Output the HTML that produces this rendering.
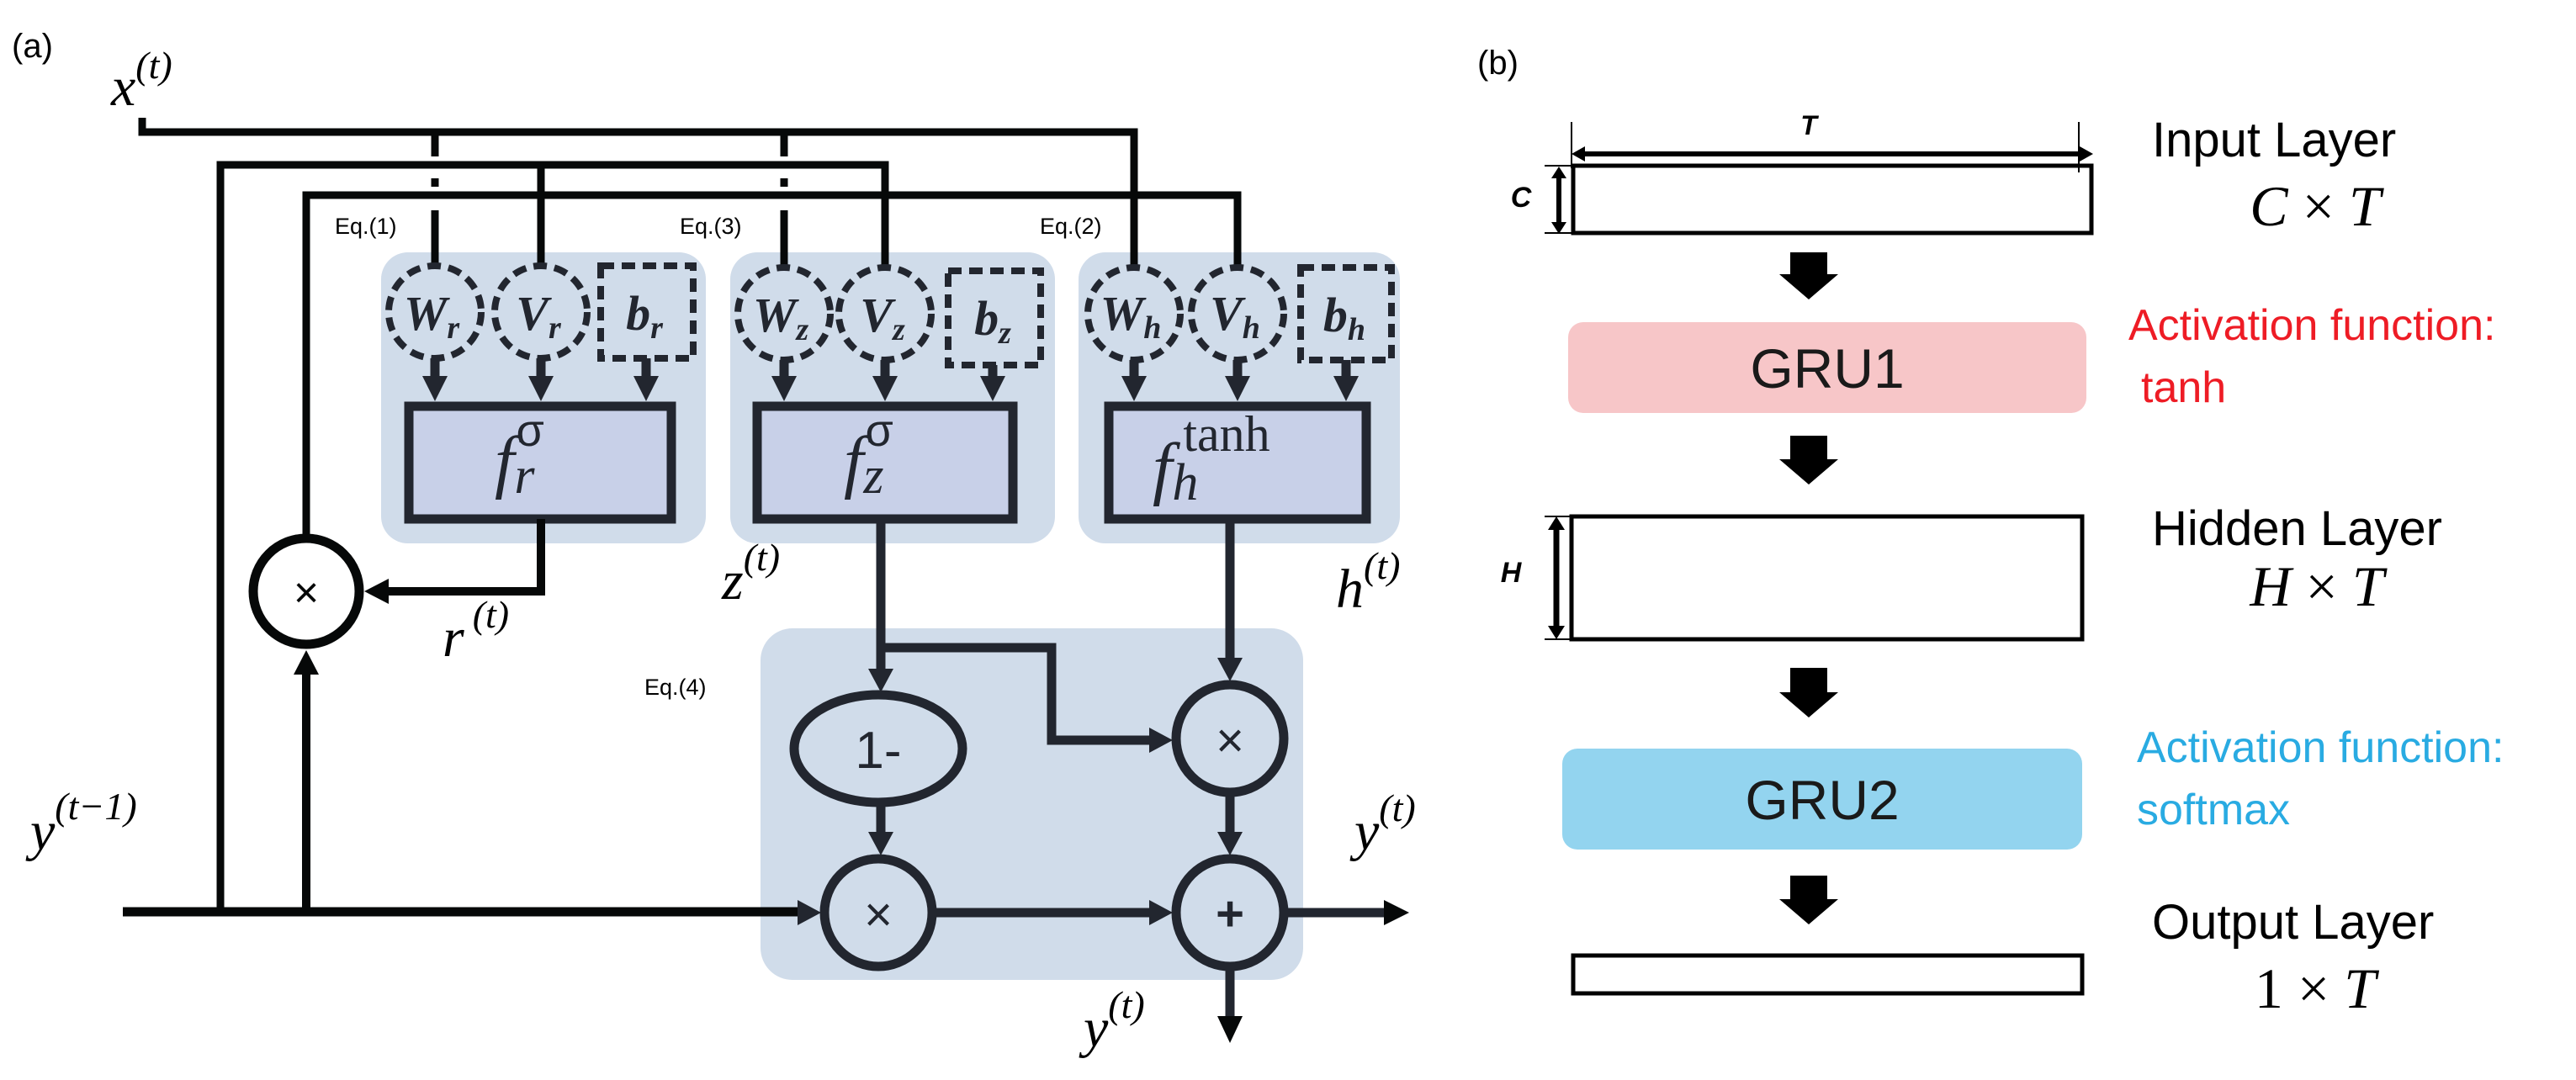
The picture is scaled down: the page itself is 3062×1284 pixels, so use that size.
<!DOCTYPE html>
<html><head><meta charset="utf-8"><style>
html,body{margin:0;padding:0;background:#fff;}
svg{display:block;}
.m{font-family:"Liberation Serif",serif;font-style:italic;}
.s{font-family:"Liberation Sans",sans-serif;}
</style></head><body>
<svg width="3062" height="1284" viewBox="0 0 3062 1284" xmlns="http://www.w3.org/2000/svg">
<rect x="453" y="300" width="386" height="346" rx="32" fill="#d0dcea"/>
<rect x="868" y="300" width="386" height="346" rx="32" fill="#d0dcea"/>
<rect x="1282" y="300" width="382" height="346" rx="32" fill="#d0dcea"/>
<rect x="904" y="747" width="645" height="418" rx="38" fill="#d0dcea"/>

<text x="14" y="68" class="s" font-size="40">(a)</text>
<text x="132" y="125" class="m" font-size="66">x<tspan dy="-32" font-size="46">(t)</tspan></text>

<g stroke="#060808" stroke-width="9" fill="none">
<path d="M169,140 V157 H1348 V318"/>
<path d="M262,1084 V196 H1052 V318"/>
<path d="M643,196 V318"/>
<path d="M364,635 V232 H1471 V318"/>
<path d="M517,157 V186 M517,212 V222 M517,250 V318"/>
<path d="M932,157 V186 M932,212 V222 M932,250 V318"/>
</g>

<text x="398" y="278" class="s" font-size="27">Eq.(1)</text>
<text x="808" y="278" class="s" font-size="27">Eq.(3)</text>
<text x="1236" y="278" class="s" font-size="27">Eq.(2)</text>
<text x="766" y="826" class="s" font-size="27">Eq.(4)</text>

<g stroke="#22262f" stroke-width="8" fill="none" stroke-dasharray="16 9">
<circle cx="517" cy="371" r="55"/><circle cx="643" cy="371" r="55"/>
<rect x="714" y="316" width="110" height="110"/>
<circle cx="932" cy="373" r="55"/><circle cx="1052" cy="373" r="55"/>
<rect x="1127" y="322" width="110" height="112"/>
<circle cx="1348" cy="373" r="55"/><circle cx="1471" cy="373" r="55"/>
<rect x="1546" y="318" width="108" height="110"/>
</g>
<g class="m" font-size="58" font-weight="bold" fill="#22262f" text-anchor="middle">
<text x="513" y="392">W<tspan font-size="38" dy="10">r</tspan></text>
<text x="640" y="392">V<tspan font-size="38" dy="10">r</tspan></text>
<text x="766" y="392">b<tspan font-size="38" dy="10">r</tspan></text>
<text x="928" y="394">W<tspan font-size="38" dy="10">z</tspan></text>
<text x="1049" y="394">V<tspan font-size="38" dy="10">z</tspan></text>
<text x="1180" y="398">b<tspan font-size="38" dy="10">z</tspan></text>
<text x="1344" y="392">W<tspan font-size="38" dy="10">h</tspan></text>
<text x="1468" y="392">V<tspan font-size="38" dy="10">h</tspan></text>
<text x="1598" y="394">b<tspan font-size="38" dy="10">h</tspan></text>
</g>

<g stroke="#22262f" stroke-width="11">
<path d="M517,426 V450 M643,426 V450 M768,426 V450 M932,428 V450 M1052,428 V450 M1180,434 V450 M1348,428 V450 M1471,428 V450 M1600,428 V450"/>
</g>
<g fill="#22262f">
<polygon points="502,447 532,447 517,477"/><polygon points="628,447 658,447 643,477"/><polygon points="753,447 783,447 768,477"/>
<polygon points="917,447 947,447 932,477"/><polygon points="1037,447 1067,447 1052,477"/><polygon points="1165,447 1195,447 1180,477"/>
<polygon points="1333,447 1363,447 1348,477"/><polygon points="1456,447 1486,447 1471,477"/><polygon points="1585,447 1615,447 1600,477"/>
</g>

<g fill="#c8d0e8" stroke="#22262f" stroke-width="11">
<rect x="486" y="483" width="312" height="134"/>
<rect x="900" y="483" width="304" height="134"/>
<rect x="1318" y="483" width="306" height="134"/>
</g>
<g class="m" fill="#22262f">
<text x="588" y="576" font-size="84">f<tspan font-size="62" dy="10">r</tspan><tspan font-family="Liberation Sans" font-style="normal" font-size="54" dx="-22" dy="-56">σ</tspan></text>
<text x="1003" y="576" font-size="84">f<tspan font-size="62" dy="10">z</tspan><tspan font-family="Liberation Sans" font-style="normal" font-size="54" dx="-22" dy="-56">σ</tspan></text>
<text x="1370" y="584" font-size="84">f<tspan font-size="62" dy="10">h</tspan><tspan font-family="Liberation Serif" font-style="normal" font-size="60" dx="-18" dy="-58">tanh</tspan></text>
</g>

<g stroke="#060808" stroke-width="10" fill="none">
<path d="M643,617 V703 H455"/>
<path d="M364,1084 V800"/>
</g>
<polygon points="433,703 462,688 462,718" fill="#060808"/>
<polygon points="364,773 349,802 379,802" fill="#060808"/>
<circle cx="364" cy="703" r="63" fill="#fff" stroke="#060808" stroke-width="11"/>
<text x="364" y="722" text-anchor="middle" class="s" font-size="52" fill="#060808">×</text>
<text x="526" y="780" class="m" font-size="66">r<tspan dx="10" dy="-34" font-size="46">(t)</tspan></text>
<text x="36" y="1010" class="m" font-size="66">y<tspan dy="-36" font-size="46">(t−1)</tspan></text>
<text x="858" y="712" class="m" font-size="66">z<tspan dy="-34" font-size="46">(t)</tspan></text>
<text x="1588" y="722" class="m" font-size="66">h<tspan dy="-34" font-size="46">(t)</tspan></text>
<text x="1610" y="1010" class="m" font-size="66">y<tspan dy="-34" font-size="46">(t)</tspan></text>
<text x="1288" y="1244" class="m" font-size="66">y<tspan dy="-34" font-size="46">(t)</tspan></text>

<g stroke="#22262f" stroke-width="11" fill="none">
<path d="M1047,617 V800"/>
<path d="M1047,770 H1250 V880 H1370"/>
<path d="M1462,617 V790"/>
<path d="M1047,957 V995"/>
<path d="M1462,946 V995"/>
<path d="M1112,1085 H1370"/>
<path d="M1462,1153 V1215"/>
<path d="M1530,1085 H1650"/>
</g>
<path d="M146,1084 H955" stroke="#060808" stroke-width="11"/>
<g fill="#22262f">
<polygon points="1032,795 1062,795 1047,823"/>
<polygon points="1366,865 1366,895 1394,880"/>
<polygon points="1447,782 1477,782 1462,810"/>
<polygon points="1032,989 1062,989 1047,1017"/>
<polygon points="1447,989 1477,989 1462,1017"/>
<polygon points="948,1070 948,1100 976,1085"/>
<polygon points="1366,1070 1366,1100 1394,1085"/>
</g>
<polygon points="1645,1070 1645,1100 1675,1085" fill="#060808"/>
<polygon points="1447,1208 1477,1208 1462,1240" fill="#060808"/>
<g fill="none" stroke="#22262f" stroke-width="11">
<ellipse cx="1044" cy="890" rx="100" ry="64"/>
<ellipse cx="1462" cy="878" rx="64" ry="64"/>
<ellipse cx="1044" cy="1085" rx="64" ry="64"/>
<ellipse cx="1462" cy="1085" rx="64" ry="64"/>
</g>
<g class="s" fill="#22262f" text-anchor="middle">
<text x="1044" y="913" font-size="62">1-</text>
<text x="1462" y="900" font-size="58">×</text>
<text x="1044" y="1107" font-size="58">×</text>
<text x="1462" y="1106" font-size="58" font-weight="bold">+</text>
</g>

<text x="1756" y="88" class="s" font-size="40">(b)</text>
<g stroke="#000" fill="none">
<rect x="1870" y="197" width="616" height="80" stroke-width="5"/>
<path d="M1868,145 V200 M2471,145 V205" stroke-width="2"/>
<path d="M1878,183 H2478" stroke-width="6"/>
<path d="M1853,206 V270" stroke-width="6"/>
<rect x="1868" y="614" width="607" height="146" stroke-width="5"/>
<path d="M1850,622 V752" stroke-width="7"/>
<path d="M1836,614 H1866 M1836,760 H1866 M1836,197 H1868 M1836,277 H1868" stroke-width="2"/>
<rect x="1870" y="1136" width="605" height="45" stroke-width="5"/>
</g>
<g fill="#000">
<polygon points="1868,183 1884,174 1884,192"/><polygon points="2488,183 2472,174 2472,192"/>
<polygon points="1853,198 1844,212 1862,212"/><polygon points="1853,278 1844,264 1862,264"/>
<polygon points="1850,614 1840,630 1860,630"/><polygon points="1850,760 1840,744 1860,744"/>
</g>
<text x="2150" y="160" class="s" font-size="32" font-weight="bold" font-style="italic" text-anchor="middle">T</text>
<text x="1808" y="246" class="s" font-size="34" font-weight="bold" font-style="italic" text-anchor="middle">C</text>
<text x="1796" y="692" class="s" font-size="34" font-weight="bold" font-style="italic" text-anchor="middle">H</text>

<g fill="#000">
<polygon points="2128,300 2172,300 2172,326 2185,326 2150,356 2115,326 2128,326"/>
<polygon points="2128,518 2172,518 2172,546 2185,546 2150,576 2115,546 2128,546"/>
<polygon points="2128,794 2172,794 2172,823 2185,823 2150,853 2115,823 2128,823"/>
<polygon points="2128,1041 2172,1041 2172,1069 2185,1069 2150,1099 2115,1069 2128,1069"/>
</g>
<rect x="1864" y="383" width="616" height="108" rx="18" fill="#f7c6c8"/>
<rect x="1857" y="890" width="618" height="120" rx="18" fill="#93d4ef"/>
<text x="2172" y="461" class="s" font-size="66" text-anchor="middle" fill="#1a1a1a">GRU1</text>
<text x="2166" y="974" class="s" font-size="66" text-anchor="middle" fill="#1a1a1a">GRU2</text>

<g class="s" font-size="58" fill="#000">
<text x="2558" y="186">Input Layer</text>
<text x="2558" y="648">Hidden Layer</text>
<text x="2558" y="1116">Output Layer</text>
</g>
<g class="m" font-size="68" fill="#000" text-anchor="middle">
<text x="2752" y="268">C <tspan font-style="normal">×</tspan> T</text>
<text x="2754" y="720">H <tspan font-style="normal">×</tspan> T</text>
<text x="2752" y="1198"><tspan font-style="normal">1 ×</tspan> T</text>
</g>
<g class="s" font-size="52">
<text x="2530" y="404" fill="#ee1c25">Activation function:</text>
<text x="2545" y="478" fill="#ee1c25">tanh</text>
<text x="2540" y="906" fill="#29abe2">Activation function:</text>
<text x="2540" y="980" fill="#29abe2">softmax</text>
</g>
</svg>
</body></html>
